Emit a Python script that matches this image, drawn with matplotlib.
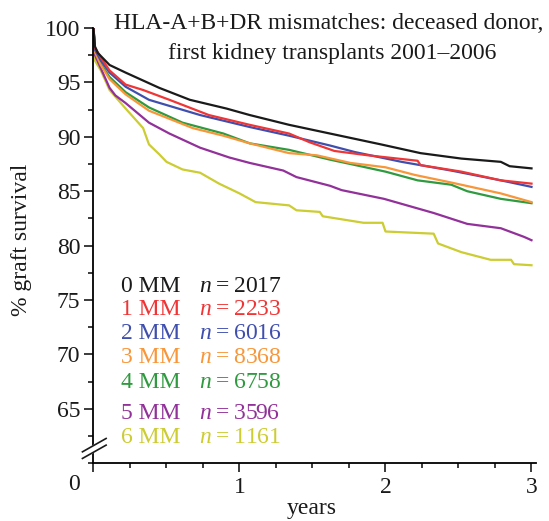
import matplotlib
matplotlib.use("Agg")
import matplotlib.pyplot as plt
from matplotlib.ticker import MultipleLocator

plt.rcParams['font.family'] = ['Liberation Serif', 'DejaVu Serif']
plt.rcParams['mathtext.fontset'] = 'custom'
plt.rcParams['mathtext.rm'] = 'Liberation Serif'
plt.rcParams['mathtext.it'] = 'Liberation Serif:italic'

# graft survival (%), time in years
t_0mm = [0, 0.01, 0.03, 0.11, 0.22, 0.45, 0.66, 0.91, 1.07, 1.34, 1.62, 1.97, 2.24, 2.52, 2.79, 2.85, 3.0]
s_0mm = [100, 98.3, 97.7, 96.6, 95.9, 94.5, 93.4, 92.6, 92.0, 91.1, 90.3, 89.3, 88.5, 88.0, 87.7, 87.3, 87.1]

t_1mm = [0, 0.01, 0.05, 0.11, 0.22, 0.34, 0.52, 0.79, 1.07, 1.34, 1.48, 1.65, 1.88, 2.22, 2.24, 2.52, 2.79, 3.0]
s_1mm = [100, 98.2, 97.3, 96.1, 94.8, 94.3, 93.4, 92.0, 91.1, 90.3, 89.5, 88.7, 88.3, 87.8, 87.4, 86.8, 86.0, 85.7]

t_2mm = [0, 0.01, 0.05, 0.11, 0.22, 0.38, 0.73, 1.07, 1.34, 1.62, 1.79, 2.11, 2.45, 2.79, 3.0]
s_2mm = [100, 98.0, 97.0, 95.9, 94.6, 93.4, 92.0, 90.9, 90.1, 89.2, 88.6, 87.7, 86.9, 86.0, 85.4]

t_3mm = [0, 0.01, 0.05, 0.11, 0.22, 0.38, 0.68, 0.89, 1.07, 1.34, 1.53, 1.76, 2.0, 2.2, 2.45, 2.79, 3.0]
s_3mm = [100, 97.8, 96.6, 95.3, 93.9, 92.4, 90.8, 90.1, 89.4, 88.5, 88.3, 87.6, 87.2, 86.5, 85.8, 84.8, 84.0]

t_4mm = [0, 0.01, 0.05, 0.11, 0.22, 0.38, 0.61, 0.89, 1.07, 1.34, 1.62, 1.76, 2.0, 2.22, 2.45, 2.56, 2.79, 3.0]
s_4mm = [100, 97.8, 96.7, 95.5, 94.1, 92.7, 91.3, 90.3, 89.4, 88.8, 87.9, 87.5, 86.8, 86.0, 85.6, 85.0, 84.3, 83.9]

t_5mm = [0, 0.01, 0.05, 0.11, 0.15, 0.22, 0.38, 0.52, 0.73, 0.93, 1.07, 1.30, 1.39, 1.62, 1.70, 1.99, 2.33, 2.56, 2.79, 2.95, 3.0]
s_5mm = [100, 97.5, 96.3, 94.5, 93.8, 93.1, 91.3, 90.3, 89.0, 88.1, 87.6, 86.9, 86.3, 85.5, 85.1, 84.3, 83.0, 82.0, 81.6, 80.8, 80.5]

t_6mm = [0, 0.01, 0.05, 0.11, 0.22, 0.34, 0.38, 0.45, 0.5, 0.61, 0.73, 0.86, 1.0, 1.11, 1.34, 1.39, 1.55, 1.57,
         1.85, 1.98, 2.0, 2.33, 2.36, 2.52, 2.72, 2.86, 2.88, 3.0]
s_6mm = [100, 97.0, 96.1, 94.3, 92.6, 90.8, 89.3, 88.4, 87.7, 87.0, 86.7, 85.7, 84.8, 84.0, 83.7, 83.25, 83.1, 82.7,
         82.1, 82.1, 81.3, 81.1, 80.2, 79.4, 78.7, 78.7, 78.3, 78.2]

labels = ['0 MM', '1 MM', '2 MM', '3 MM', '4 MM', '5 MM', '6 MM']
counts = [2017, 2233, 6016, 8368, 6758, 3596, 1161]
colors = ['#1a1a1a', '#ef3535', '#3f4fae', '#f8963a', '#2f9a3f', '#923199', '#cccc33']

times = [t_0mm, t_1mm, t_2mm, t_3mm, t_4mm, t_5mm, t_6mm]
survival = [s_0mm, s_1mm, s_2mm, s_3mm, s_4mm, s_5mm, s_6mm]

fig = plt.figure(figsize=(5.49, 5.21), dpi=100)
ax = fig.add_axes([0.1703, 0.1107, 0.8058, 0.8356])

# draw worst first so black sits on top
for i in range(6, -1, -1):
    ax.plot(times[i], survival[i], color=colors[i], lw=1.6, solid_joinstyle='round')

ax.set_xlim(0, 3.03)
ax.set_ylim(60, 100)

ax.spines['top'].set_visible(False)
ax.spines['right'].set_visible(False)
ax.spines['left'].set_linewidth(1.3)
ax.spines['bottom'].set_linewidth(1.3)

ax.set_yticks([65, 70, 75, 80, 85, 90, 95, 100])
ax.yaxis.set_minor_locator(MultipleLocator(2.5))
ax.set_xticks([0, 1, 2, 3])
ax.set_xticklabels(['', '1', '2', '3'])
ax.xaxis.set_minor_locator(MultipleLocator(0.25))
ax.tick_params(which='major', length=6.5, width=1.2, labelsize=17, pad=3, colors='#1a1a1a')
ax.tick_params(which='minor', length=3.5, width=1.2, colors='#1a1a1a')

# the "0" sits at the corner, left of the y axis
ax.annotate('0', xy=(0, 0), xycoords='axes fraction', xytext=(-14, -7.5),
            textcoords='offset points', ha='center', va='top', fontsize=17, color='#1a1a1a')

# axis break marks
k = dict(transform=ax.transAxes, clip_on=False)
ax.fill([-0.025, 0.0285, 0.0285, -0.025], [0.0264, 0.0571, 0.0418, 0.0112], color='white', zorder=5, **k)
ax.plot([-0.025, 0.0285], [0.0264, 0.0571], color='#1a1a1a', lw=1.2, zorder=6, **k)
ax.plot([-0.025, 0.0285], [0.0112, 0.0418], color='#1a1a1a', lw=1.2, zorder=6, **k)

# legend as coloured text
row_y = [76.25, 74.1, 71.9, 69.7, 67.4, 64.55, 62.35]
for i in range(7):
    ax.text(0.19, row_y[i], labels[i], color=colors[i], fontsize=17, va='center', ha='left')
    ax.text(0.725, row_y[i], r'$n\hspace{0.07}{=}\hspace{0.07}$' + str(counts[i]), color=colors[i],
            fontsize=17, va='center', ha='left')

fig.text(0.598, 0.955, 'HLA-A+B+DR mismatches: deceased donor,', fontsize=17,
         ha='center', va='center', color='#1a1a1a')
fig.text(0.605, 0.897, 'first kidney transplants 2001\u20132006', fontsize=17,
         ha='center', va='center', color='#1a1a1a')

fig.text(0.04, 0.54, '% graft survival', rotation=90, fontsize=17, ha='center', va='center', color='#1a1a1a')
fig.text(0.568, 0.003, 'years', fontsize=17, ha='center', va='bottom', color='#1a1a1a')

fig.savefig('out.png', dpi=100)
